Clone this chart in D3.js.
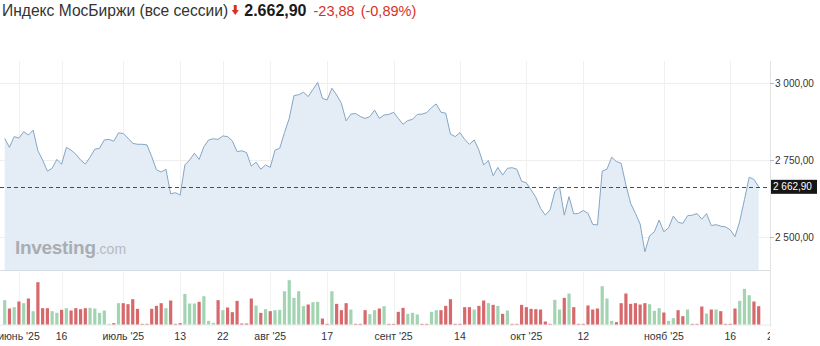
<!DOCTYPE html>
<html lang="ru">
<head>
  <meta charset="UTF-8">
  <title>Индекс МосБиржи</title>
  <script src="https://d3js.org/d3.v7.min.js"></script>
  <style>
    body { margin: 0; padding: 0; background: #fff; }
    svg { display: block; font-family: "Liberation Sans", Arial, sans-serif; }
  </style>
</head>
<body>
  <svg id="chart" width="820" height="346"></svg>

  <script>
    // close values, one per session
    const closes = [
      2820, 2791, 2826, 2821, 2842, 2831, 2847, 2780, 2750, 2714,
      2723, 2752, 2736, 2791, 2782, 2769, 2750, 2737, 2759, 2785,
      2788, 2815, 2817, 2811, 2838, 2836, 2821, 2804, 2801, 2801,
      2799, 2761, 2718, 2711, 2720, 2640, 2644, 2636, 2734, 2750,
      2772, 2752, 2793, 2815, 2819, 2817, 2828, 2826, 2812, 2777,
      2780, 2774, 2730, 2743, 2720, 2734, 2726, 2782, 2788, 2839,
      2885, 2959, 2962, 2970, 2956, 2979, 3002, 2950, 2945, 2983,
      2961, 2934, 2877, 2899, 2901, 2891, 2885, 2891, 2912, 2885,
      2896, 2898, 2905, 2885, 2866, 2878, 2882, 2898, 2899, 2904,
      2920, 2932, 2905, 2902, 2834, 2826, 2839, 2817, 2801, 2815,
      2782, 2734, 2748, 2699, 2726, 2701, 2723, 2725, 2720, 2681,
      2676, 2653, 2629, 2593, 2571, 2588, 2647, 2663, 2571, 2631,
      2575, 2577, 2586, 2577, 2541, 2539, 2714, 2720, 2759, 2745,
      2739, 2669, 2609, 2577, 2542, 2452, 2504, 2517, 2555, 2517,
      2530, 2568, 2548, 2544, 2569, 2571, 2576, 2558, 2576, 2537,
      2540, 2535, 2533, 2523, 2501, 2551, 2622, 2694, 2687, 2662.9
    ];

    // volume (relative units) and direction of each session: 1 = up, 0 = down
    const volumes = [
      73, 48, 52, 69, 64, 78, 40, 127, 49, 49,
      40, 35, 44, 49, 42, 49, 46, 49, 50, 48,
      35, 42, 2, 4, 64, 64, 61, 76, 47, 2,
      2, 47, 56, 64, 49, 72, 2, 4, 92, 63,
      63, 68, 85, 11, 5, 73, 43, 51, 37, 71,
      3, 3, 78, 57, 35, 46, 40, 43, 44, 100,
      133, 80, 100, 55, 60, 67, 68, 18, 2, 100,
      62, 43, 64, 45, 2, 2, 43, 31, 43, 48,
      55, 2, 2, 38, 50, 32, 35, 30, 2, 2,
      38, 43, 43, 56, 76, 2, 2, 52, 52, 45,
      56, 72, 64, 59, 56, 32, 42, 2, 2, 59,
      52, 47, 46, 45, 9, 2, 74, 45, 80, 93,
      52, 2, 2, 57, 45, 48, 115, 78, 11, 7,
      64, 93, 62, 64, 60, 64, 61, 41, 49, 36,
      11, 19, 43, 25, 45, 2, 2, 54, 33, 45,
      45, 40, 2, 2, 48, 71, 107, 88, 69, 55
    ];
    const volUp = [
      1, 0, 1, 0, 1, 0, 1, 0, 0, 0,
      1, 1, 0, 1, 0, 0, 0, 0, 1, 1,
      1, 1, 1, 0, 1, 0, 0, 0, 0, 0,
      0, 0, 0, 0, 1, 0, 0, 0, 1, 1,
      1, 0, 1, 1, 1, 0, 1, 0, 0, 0,
      0, 0, 0, 1, 0, 1, 0, 1, 1, 1,
      1, 1, 1, 1, 0, 1, 1, 0, 0, 1,
      0, 0, 0, 1, 0, 0, 0, 1, 1, 0,
      1, 0, 0, 0, 0, 1, 1, 1, 0, 0,
      1, 1, 0, 0, 0, 0, 0, 0, 0, 1,
      0, 0, 1, 0, 1, 0, 1, 0, 0, 0,
      0, 0, 0, 0, 0, 0, 1, 1, 0, 1,
      0, 0, 0, 0, 0, 0, 1, 1, 1, 0,
      0, 0, 0, 0, 0, 0, 1, 1, 1, 0,
      1, 1, 0, 0, 1, 0, 0, 0, 1, 0,
      1, 0, 0, 0, 0, 1, 1, 1, 0, 0
    ];

    // x-axis ticks (session index) and labels
    const tickIdx = [3, 12, 25, 37, 46, 56, 68, 82, 96, 110, 122, 139, 153, 162];
    const tickLabels = ["июнь '25", "16", "июль '25", "13", "22", "авг '25", "17",
                        "сент '25", "14", "окт '25", "12", "нояб '25", "16", "23"];

    const priceTicks = [2500, 2750, 3000];

    const title = "Индекс МосБиржи (все сессии)";
    const lastText = "2.662,90";
    const changeText = "-23,88";
    const changePct = "(-0,89%)";

    const plotLeft = 0, plotRight = 770, plotTop = 61, plotBottom = 270;
    const volBase = 324.5;

    const svg = d3.select("#chart");
    const fmt = v => d3.format(",.2f")(v).replace(/,/g, " ").replace(".", ",");

    const x = d3.scaleLinear().domain([0, closes.length - 1]).range([4.7, 758.7]);
    const y = d3.scaleLinear().domain([2500, 3000]).range([237, 83]);
    const yv = d3.scaleLinear().domain([0, 133]).range([volBase, volBase - 44.3]);

    const data = closes.map((c, i) => ({ i: i, close: c, vol: volumes[i], up: volUp[i] }));

    // grid
    svg.append("g").selectAll("line").data(priceTicks).join("line")
      .attr("x1", plotLeft).attr("x2", plotRight)
      .attr("y1", d => Math.round(y(d)) + 0.5).attr("y2", d => Math.round(y(d)) + 0.5)
      .attr("stroke", "#eeeeee");

    const vgrid = svg.append("g");
    vgrid.selectAll("line.top").data(tickIdx.filter(t => x(t) < plotRight)).join("line")
      .attr("class", "top")
      .attr("x1", d => Math.round(x(d)) + 0.5).attr("x2", d => Math.round(x(d)) + 0.5)
      .attr("y1", plotTop).attr("y2", plotBottom)
      .attr("stroke", "#f0f0f0");
    vgrid.selectAll("line.bot").data(tickIdx.filter(t => x(t) < plotRight)).join("line")
      .attr("class", "bot")
      .attr("x1", d => Math.round(x(d)) + 0.5).attr("x2", d => Math.round(x(d)) + 0.5)
      .attr("y1", plotBottom + 2).attr("y2", volBase)
      .attr("stroke", "#f2f2f2");

    // area + line
    const area = d3.area().x(d => x(d.i)).y0(plotBottom).y1(d => y(d.close));
    const line = d3.line().x(d => x(d.i)).y(d => y(d.close));

    svg.append("path").datum(data)
      .attr("d", area)
      .attr("fill", "#e4edf6");

    svg.append("path").datum(data)
      .attr("d", line)
      .attr("fill", "none")
      .attr("stroke", "#84a6c6")
      .attr("stroke-width", 1);

    // watermark
    const wm = svg.append("text")
      .attr("x", 15).attr("y", 254);
    wm.append("tspan")
      .attr("font-size", 19).attr("font-weight", "bold")
      .attr("fill", "#a9adb1")
      .attr("letter-spacing", -0.3)
      .text("Investing");
    wm.append("tspan")
      .attr("font-size", 14).attr("fill", "#b6babe")
      .text(".com");

    // last price dashed line
    const last = closes[closes.length - 1];
    svg.append("line")
      .attr("x1", plotLeft).attr("x2", plotRight)
      .attr("y1", Math.round(y(last)) + 0.5).attr("y2", Math.round(y(last)) + 0.5)
      .attr("stroke", "#4d4d4d")
      .attr("stroke-dasharray", "4,3");

    // separator between price and volume panes
    svg.append("line")
      .attr("x1", plotLeft).attr("x2", plotRight)
      .attr("y1", plotBottom + 0.5).attr("y2", plotBottom + 0.5)
      .attr("stroke", "#d6dde4");

    // volume bars
    svg.append("line")
      .attr("x1", plotLeft).attr("x2", plotRight)
      .attr("y1", volBase + 0.5).attr("y2", volBase + 0.5)
      .attr("stroke", "#e8e8e8");

    svg.append("g").selectAll("rect").data(data).join("rect")
      .attr("x", d => x(d.i) - 1.6)
      .attr("width", 3.2)
      .attr("y", d => yv(d.vol))
      .attr("height", d => volBase - yv(d.vol))
      .attr("fill", d => d.up ? "#a2d4b2" : "#d7686b");

    // right axis
    svg.append("line")
      .attr("x1", plotRight + 0.5).attr("x2", plotRight + 0.5)
      .attr("y1", plotTop).attr("y2", volBase + 2)
      .attr("stroke", "#e3e3e3");

    const yAxis = svg.append("g");
    yAxis.selectAll("line").data(priceTicks).join("line")
      .attr("x1", plotRight).attr("x2", plotRight + 4)
      .attr("y1", d => Math.round(y(d)) + 0.5).attr("y2", d => Math.round(y(d)) + 0.5)
      .attr("stroke", "#bbbbbb");
    yAxis.selectAll("text").data(priceTicks).join("text")
      .attr("x", plotRight + 5)
      .attr("y", d => y(d))
      .attr("dy", "0.35em")
      .attr("font-size", 10)
      .attr("fill", "#333")
      .text(d => fmt(d));

    // last price tag
    svg.append("rect")
      .attr("x", plotRight + 1).attr("y", y(last) - 7)
      .attr("width", 46).attr("height", 14)
      .attr("fill", "#161616");
    svg.append("text")
      .attr("x", plotRight + 3).attr("y", y(last))
      .attr("dy", "0.35em")
      .attr("font-size", 10)
      .attr("fill", "#fff")
      .text(fmt(last));

    // x labels
    svg.append("clipPath").attr("id", "xclip")
      .append("rect").attr("x", 0).attr("y", 326).attr("width", plotRight).attr("height", 20);
    svg.append("g").attr("clip-path", "url(#xclip)")
      .selectAll("text").data(tickIdx).join("text")
      .attr("x", d => x(d))
      .attr("y", 339.5)
      .attr("text-anchor", "middle")
      .attr("font-size", 10.5)
      .attr("fill", "#333")
      .text((d, i) => tickLabels[i]);

    // header
    const head = svg.append("g");
    const t1 = head.append("text")
      .attr("x", 2).attr("y", 16)
      .attr("font-size", 15.6)
      .attr("fill", "#333")
      .text(title);
    let hx = 2 + t1.node().getComputedTextLength() + 4;

    // down arrow icon
    head.append("path")
      .attr("transform", `translate(${hx},0)`)
      .attr("d", "M1.5,5 H4.5 V10 H6.5 L3,15 L-0.5,10 H1.5 Z")
      .attr("fill", "#d93025");
    hx += 12;

    const t2 = head.append("text")
      .attr("x", hx).attr("y", 16)
      .attr("font-size", 16)
      .attr("font-weight", "bold")
      .attr("fill", "#1a1a1a")
      .text(lastText);
    hx += t2.node().getComputedTextLength() + 7;

    const t3 = head.append("text")
      .attr("x", hx).attr("y", 16)
      .attr("font-size", 14.5)
      .attr("fill", "#d93025")
      .text(changeText);
    hx += t3.node().getComputedTextLength() + 6;

    head.append("text")
      .attr("x", hx).attr("y", 16)
      .attr("font-size", 14.5)
      .attr("fill", "#d93025")
      .text(changePct);
  </script>
</body>
</html>
